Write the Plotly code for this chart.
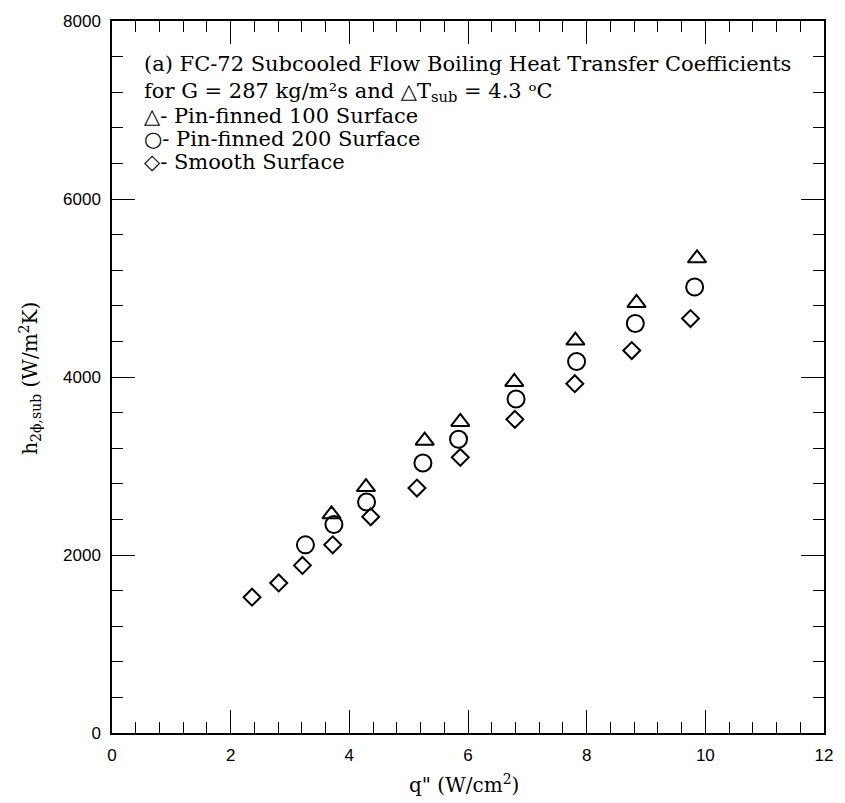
import plotly.graph_objects as go

# q'' (W/cm^2) and h (W/m^2K)
pin100_q = [3.70, 4.28, 5.27, 5.87, 6.78, 7.81, 8.84, 9.86]
pin100_h = [2457, 2763, 3284, 3495, 3944, 4409, 4832, 5334]

pin200_q = [3.26, 3.74, 4.29, 5.24, 5.84, 6.81, 7.83, 8.82, 9.82]
pin200_h = [2114, 2343, 2596, 3034, 3301, 3752, 4175, 4602, 5011]

smooth_q = [2.36, 2.81, 3.21, 3.72, 4.36, 5.14, 5.87, 6.79, 7.80, 8.76, 9.75]
smooth_h = [1526, 1686, 1883, 2114, 2429, 2752, 3097, 3524, 3925, 4297, 4657]

x_ticks = [0, 2, 4, 6, 8, 10, 12]
y_ticks = [0, 2000, 4000, 6000, 8000]

legend_lines = [
    "(a) FC-72 Subcooled Flow Boiling Heat Transfer Coefficients",
    "for G = 287 kg/m\u00b2s and \u25b3T<sub>sub</sub> = 4.3 \u1d52C",
    "\u25b3- Pin-finned 100 Surface",
    "\u25cb- Pin-finned 200 Surface",
    "\u25c7- Smooth Surface",
]

serif = "DejaVu Serif, Liberation Serif, serif"
sans = "Liberation Sans, Arial, sans-serif"

fig = go.Figure()
mk_line = dict(color="black", width=2)
fig.add_trace(go.Scatter(x=pin100_q, y=pin100_h, mode="markers",
                         marker=dict(symbol="triangle-up-open", size=16, line=mk_line, color="black")))
fig.add_trace(go.Scatter(x=pin200_q, y=pin200_h, mode="markers",
                         marker=dict(symbol="circle-open", size=17, line=mk_line, color="black")))
fig.add_trace(go.Scatter(x=smooth_q, y=smooth_h, mode="markers",
                         marker=dict(symbol="diamond-open", size=13, line=mk_line, color="black")))

axis_common = dict(
    showline=True, linecolor="black", linewidth=1.5, mirror="allticks",
    ticks="inside", ticklen=23, tickwidth=1, tickcolor="black",
    showgrid=False, zeroline=False,
    tickfont=dict(family=sans, size=17, color="black"),
)
fig.update_xaxes(range=[0, 12], tickvals=x_ticks, ticklabelstandoff=6,
                 minor=dict(dtick=0.4, ticks="inside", ticklen=11, tickwidth=1, tickcolor="black"),
                 **axis_common)
fig.update_yaxes(range=[0, 8000], tickvals=y_ticks, ticklabelstandoff=6,
                 minor=dict(dtick=400, ticks="inside", ticklen=11, tickwidth=1, tickcolor="black"),
                 **axis_common)

ys = [58, 87, 111, 134, 157]
annotations = []
for txt, yp in zip(legend_lines, ys):
    annotations.append(dict(text=txt, xref="paper", yref="paper",
                            x=(142 - 112) / 719, y=1 - (yp - 15) / 718,
                            xanchor="left", yanchor="middle", showarrow=False,
                            font=dict(family=serif, size=21, color="black")))
annotations.append(dict(text="h<sub>2\u03d5,sub</sub> (W/m<sup>2</sup>K)", xref="paper", yref="paper",
                        x=(30 - 112) / 719, y=1 - (375 - 15) / 718, textangle=-90,
                        xanchor="center", yanchor="middle", showarrow=False,
                        font=dict(family=serif, size=20, color="black")))
annotations.append(dict(text="q\" (W/cm<sup>2</sup>)", xref="paper", yref="paper",
                        x=(467 - 112) / 719, y=1 - (784 - 15) / 718,
                        xanchor="center", yanchor="middle", showarrow=False,
                        font=dict(family=serif, size=20, color="black")))

fig.update_layout(
    width=845, height=803,
    margin=dict(l=112, r=14, t=15, b=70),
    paper_bgcolor="white", plot_bgcolor="white",
    showlegend=False,
    annotations=annotations,
)

fig.write_html("out.html")
